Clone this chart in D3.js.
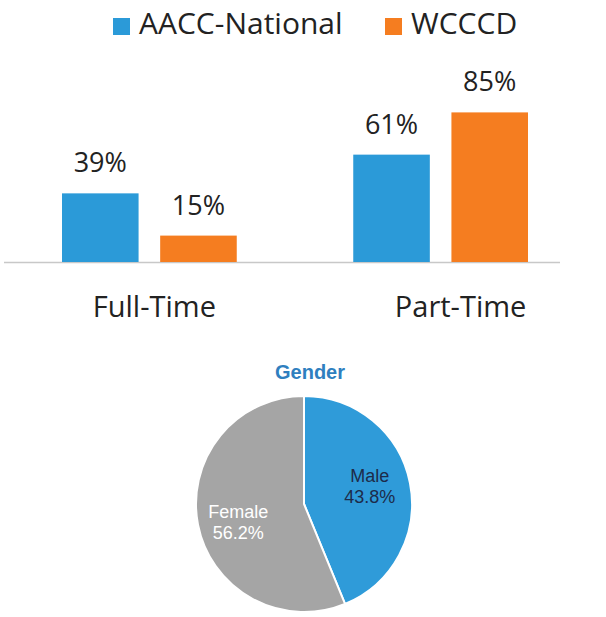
<!DOCTYPE html>
<html>
<head>
<meta charset="utf-8">
<script src="https://cdn.jsdelivr.net/npm/d3@7"></script>
<style>
  body { margin: 0; background: #fff; }
  svg { display: block; }
</style>
</head>
<body>
<svg width="606" height="617"></svg>
<script>
// enrollment status, percent
var categories = ["Full-Time", "Part-Time"]
var seriesNames = ["AACC-National", "WCCCD"]
var aaccValues = [39, 61]
var wcccdValues = [15, 85]

// gender split
var genderLabels = ["Male", "Female"]
var genderValues = [43.8, 56.2]

var colors = { "AACC-National": "#2b9ad8", "WCCCD": "#f57d20" }

var svg = d3.select("svg")
var font = "'Open Sans', Lato, sans-serif"

var rows = categories.map(function (c, i) {
    return { cat: c, vals: [
        { key: seriesNames[0], v: aaccValues[i] },
        { key: seriesNames[1], v: wcccdValues[i] }
    ] }
})

var baseY = 262
var x0 = d3.scaleBand().domain(categories).range([62, 528]).paddingInner(0.4)
var x1 = d3.scaleBand().domain(seriesNames).range([0, x0.bandwidth()]).paddingInner(0.22)
var y = d3.scaleLinear().domain([0, 100]).range([baseY, baseY - 176])

// legend
var legend = svg.append("g").selectAll("g")
    .data(seriesNames)
    .enter().append("g")
    .attr("transform", function (d, i) { return "translate(" + [113, 385][i] + ",0)" })
legend.append("rect")
    .attr("y", 18).attr("width", 17).attr("height", 17)
    .attr("fill", function (d) { return colors[d] })
legend.append("text")
    .attr("x", 26).attr("y", 34)
    .style("font-family", font).style("font-size", "30px").attr("fill", "#222")
    .text(function (d) { return d })

// baseline
svg.append("line")
    .attr("x1", 4).attr("x2", 560).attr("y1", baseY + 0.5).attr("y2", baseY + 0.5)
    .attr("stroke", "#c8c8c8").attr("stroke-width", 1.5)

var group = svg.append("g").selectAll("g")
    .data(rows)
    .enter().append("g")
    .attr("transform", function (d) { return "translate(" + x0(d.cat) + ",0)" })

group.selectAll("rect")
    .data(function (d) { return d.vals })
    .enter().append("rect")
    .attr("x", function (d) { return x1(d.key) })
    .attr("width", x1.bandwidth())
    .attr("y", function (d) { return y(d.v) })
    .attr("height", function (d) { return baseY - y(d.v) })
    .attr("fill", function (d) { return colors[d.key] })

group.selectAll("text.val")
    .data(function (d) { return d.vals })
    .enter().append("text")
    .attr("class", "val")
    .attr("x", function (d) { return x1(d.key) + x1.bandwidth() / 2 })
    .attr("y", function (d) { return y(d.v) - 21 })
    .attr("text-anchor", "middle")
    .style("font-family", font).style("font-size", "27px").attr("fill", "#222")
    .text(function (d) { return d.v + "%" })

var catShift = [5, 20]
svg.append("g").selectAll("text")
    .data(categories)
    .enter().append("text")
    .attr("x", function (d, i) { return x0(d) + x0.bandwidth() / 2 + catShift[i] })
    .attr("y", 317)
    .attr("text-anchor", "middle")
    .style("font-family", font).style("font-size", "29px").attr("fill", "#222")
    .text(function (d) { return d })

// pie
var cx = 304, cy = 504, r = 108
svg.append("text")
    .attr("x", 310).attr("y", 379).attr("text-anchor", "middle")
    .style("font-family", "'Liberation Sans', Arial, sans-serif")
    .style("font-size", "20px").style("font-weight", "bold")
    .attr("fill", "#2f7fbf")
    .text("Gender")

var pie = d3.pie().sort(null)
var arcs = pie(genderValues)
var arc = d3.arc().innerRadius(0).outerRadius(r)
var pieColors = ["#2f9bd9", "#a5a5a5"]
var textColors = ["#1d2b4a", "#ffffff"]
var labelNudge = [-9, 1]

var pg = svg.append("g").attr("transform", "translate(" + cx + "," + cy + ")")
pg.selectAll("path")
    .data(arcs)
    .enter().append("path")
    .attr("d", arc)
    .attr("fill", function (d, i) { return pieColors[i] })
    .attr("stroke", "#fff").attr("stroke-width", 2)

var labelArc = d3.arc().innerRadius(r * 0.62).outerRadius(r * 0.62)
var lbl = pg.selectAll("text")
    .data(arcs)
    .enter().append("text")
    .attr("transform", function (d, i) {
        var c = labelArc.centroid(d)
        return "translate(" + c[0] + "," + (c[1] + labelNudge[i]) + ")"
    })
    .attr("text-anchor", "middle")
    .style("font-family", "'Liberation Sans', Arial, sans-serif")
    .style("font-size", "18px")
    .attr("fill", function (d, i) { return textColors[i] })
lbl.append("tspan").attr("x", 0).attr("dy", 0)
    .text(function (d, i) { return genderLabels[i] })
lbl.append("tspan").attr("x", 0).attr("dy", 21)
    .text(function (d, i) { return genderValues[i].toFixed(1) + "%" })
</script>
</body>
</html>
